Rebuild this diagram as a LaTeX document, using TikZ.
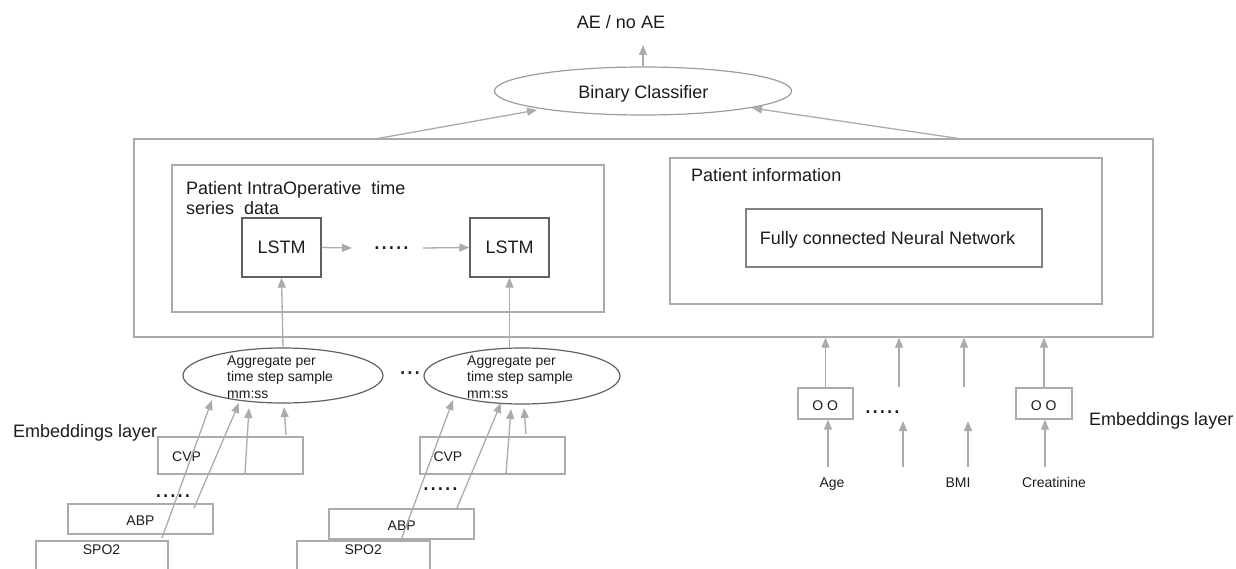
\documentclass[tikz,border=0pt]{standalone}
\usepackage{fontspec}
\setmainfont{Liberation Sans}
\usetikzlibrary{shapes.geometric,arrows.meta,calc}
\definecolor{boxgray}{HTML}{ABABAB}
\definecolor{darkline}{HTML}{616161}
\definecolor{midline}{HTML}{9C9C9C}
\definecolor{arrowgray}{HTML}{ABABAB}
\definecolor{txt}{HTML}{1C1C1C}
\begin{document}
\begin{tikzpicture}[x=1pt,y=-1pt,
  big/.style={font=\fontsize{18}{20}\selectfont, text=txt, inner sep=0pt},
  small/.style={font=\fontsize{14}{17}\selectfont, text=txt, inner sep=0pt},
  dotsnode/.style={font=\fontsize{26}{26}\selectfont, text=txt, inner sep=0pt},
  frame/.style={rectangle, draw=boxgray, line width=1.3pt, inner sep=0pt},
  darkbox/.style={rectangle, draw=darkline, line width=1.3pt, inner sep=0pt},
  aggell/.style={ellipse, draw=darkline, line width=1.2pt, inner sep=0pt},
  arr/.style={draw=arrowgray, line width=1.3pt, -{Triangle[length=10pt,width=8pt]}},
]
\useasboundingbox (0,0) rectangle (1236,569);
\clip (0,0) rectangle (1236,569);

% ---- top: classifier ----
\node[big, anchor=base] (ae) at (621,28.5) {AE / no AE};
\node[ellipse, draw=midline, line width=1.2pt, inner sep=0pt,
      minimum width=297pt, minimum height=48pt] (bc) at (643,91) {};
\node[big, anchor=base] (bctext) at (643.5,98.5) {Binary Classifier};
\coordinate (aetip) at (643,45);
\draw[arr] (bc.north) -- (aetip);

% ---- outer frame ----
\node[frame, minimum width=1019pt, minimum height=198pt] (outer) at (643.5,238) {};
\coordinate (ol) at (375,139);
\coordinate (or) at (962,139);
\coordinate (bcl) at (537,110);
\coordinate (bcr) at (752,108);
\draw[arr] (ol) -- (bcl);
\draw[arr] (or) -- (bcr);

% ---- left inner: time series ----
\node[frame, minimum width=432pt, minimum height=147pt] (tsbox) at (388,238.5) {};
\node[big, anchor=base west] (ts1) at (186,195) {Patient IntraOperative\ \ time};
\node[big, anchor=base west] (ts2) at (186,214.5) {series\ \ data};
\node[darkbox, big, minimum width=79pt, minimum height=59pt] (lstm1) at (281.5,247.5) {LSTM};
\node[darkbox, big, minimum width=79pt, minimum height=59pt] (lstm2) at (509.5,247.5) {LSTM};
\node[dotsnode, anchor=base] (ldots) at (391.5,249.3) {.....};
\coordinate (l1end) at (352,248);
\coordinate (l2start) at (423,248);
\draw[arr] (lstm1.east) -- (l1end);
\draw[arr] (l2start) -- (lstm2.west);

% ---- right inner: patient information ----
\node[frame, minimum width=432pt, minimum height=146pt] (pibox) at (886,231) {};
\node[big, anchor=base west] (pitext) at (691,182) {Patient information};
\node[darkbox, minimum width=296pt, minimum height=58pt, draw=darkline!80] (fcnn) at (894,238) {};
\node[big, anchor=base] (fcnntext) at (887.5,245) {Fully connected Neural Network};

% ---- aggregate ellipses ----
\node[aggell, minimum width=200pt, minimum height=55pt] (agg1) at (283,375.5) {};
\node[small, anchor=base west] (ag1a) at (227,365) {Aggregate per};
\node[small, anchor=base west] (ag1b) at (227,381.5) {time step sample};
\node[small, anchor=base west] (ag1c) at (227,398) {mm:ss};
\node[aggell, minimum width=196pt, minimum height=56pt] (agg2) at (522,376) {};
\node[small, anchor=base west] (ag2a) at (467,365) {Aggregate per};
\node[small, anchor=base west] (ag2b) at (467,381.5) {time step sample};
\node[small, anchor=base west] (ag2c) at (467,398) {mm:ss};
\node[dotsnode, anchor=base] (edots) at (410,374.3) {...};

\draw[arr] (agg1.north) -- (lstm1.south);
\draw[arr] (lstm2.south |- agg2.north) -- (lstm2.south);

% ---- embeddings (left) ----
\node[big, anchor=base west] (embl) at (13,437) {Embeddings layer};

\node[frame, minimum width=145pt, minimum height=37pt] (cvp1) at (230.5,455.5) {};
\node[small, anchor=base west] (cvp1t) at (172,461.5) {CVP};
\node[dotsnode, anchor=base] (d1) at (173,497) {.....};
\node[frame, small, minimum width=145pt, minimum height=30pt] (abp1) at (140.5,519) {};
\node[small, anchor=base] (abp1t) at (140.5,525.5) {ABP};
\node[frame, minimum width=132pt, minimum height=60pt] (spo1) at (102,571) {};
\node[small, anchor=base west] (spo1t) at (82.7,554) {SPO2};

\node[frame, minimum width=145pt, minimum height=37pt] (cvp2) at (492.5,455.5) {};
\node[small, anchor=base west] (cvp2t) at (433.3,461.5) {CVP};
\node[dotsnode, anchor=base] (d2) at (440.5,490.6) {.....};
\node[frame, minimum width=145pt, minimum height=30pt] (abp2) at (401.5,524) {};
\node[small, anchor=base] (abp2t) at (401.7,530) {ABP};
\node[frame, minimum width=133pt, minimum height=60pt] (spo2) at (363.5,571) {};
\node[small, anchor=base west] (spo2t) at (344.3,554) {SPO2};

% arrows into aggregate 1
\coordinate (a1s) at (162,538); \coordinate (a1t) at (212,400);
\coordinate (b1s) at (194,508); \coordinate (b1t) at (239,403);
\coordinate (c1s) at (245,474); \coordinate (c1t) at (249,408);
\coordinate (d1s) at (286,435); \coordinate (d1t) at (284,407);
\draw[arr] (a1s) -- (a1t);
\draw[arr] (b1s) -- (b1t);
\draw[arr] (c1s) -- (c1t);
\draw[arr] (d1s) -- (d1t);
% arrows into aggregate 2
\coordinate (a2s) at (401,540); \coordinate (a2t) at (453,400);
\coordinate (b2s) at (457,508); \coordinate (b2t) at (501,403);
\coordinate (c2s) at (506,474); \coordinate (c2t) at (511,409);
\coordinate (d2s) at (526,434); \coordinate (d2t) at (524,408);
\draw[arr] (a2s) -- (a2t);
\draw[arr] (b2s) -- (b2t);
\draw[arr] (c2s) -- (c2t);
\draw[arr] (d2s) -- (d2t);

% ---- embeddings (right) ----
\node[frame, minimum width=55pt, minimum height=31pt] (oo1) at (825.5,403.5) {};
\node[small, anchor=base] (oo1t) at (825.3,410) {O O};
\node[frame, minimum width=56pt, minimum height=31pt] (oo2) at (1044,403.5) {};
\node[small, anchor=base] (oo2t) at (1043.7,410) {O O};
\node[dotsnode, anchor=base] (rdots) at (882.5,413) {.....};
\node[big, anchor=base west] (embr) at (1089,425) {Embeddings layer};

\node[small, anchor=base] (age) at (832,487) {Age};
\node[small, anchor=base] (bmi) at (958,487) {BMI};
\node[small, anchor=base] (crea) at (1054,487) {Creatinine};

\coordinate (u2s) at (899,387); \coordinate (u3s) at (964,387);
\draw[arr] (oo1.north) -- (oo1.north |- outer.south);
\draw[arr] (u2s) -- (u2s |- outer.south);
\draw[arr] (u3s) -- (u3s |- outer.south);
\draw[arr] (oo2.north) -- (oo2.north |- outer.south);

\coordinate (l1s) at (828,467);
\coordinate (l2s) at (903,467); \coordinate (l2t) at (903,421);
\coordinate (l3s) at (968,467); \coordinate (l3t) at (968,421);
\coordinate (l4s) at (1045,467);
\draw[arr] (l1s) -- (l1s |- oo1.south);
\draw[arr] (l2s) -- (l2t);
\draw[arr] (l3s) -- (l3t);
\draw[arr] (l4s) -- (l4s |- oo2.south);
\end{tikzpicture}
\end{document}
